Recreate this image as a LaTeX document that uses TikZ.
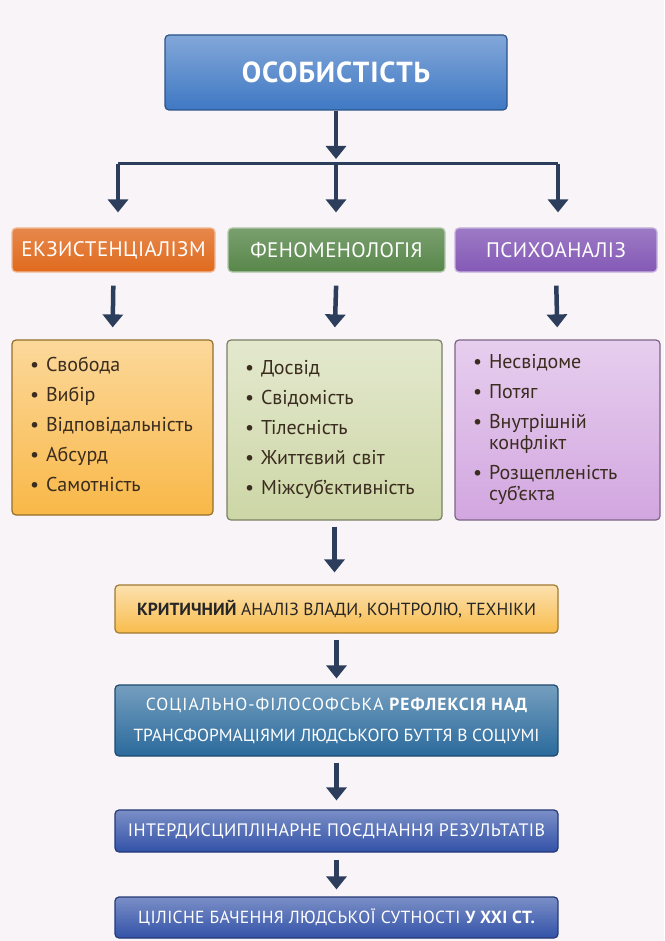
\documentclass[tikz,border=0pt]{standalone}
\usepackage{fontspec}
\setmainfont{PT Sans}
\usepackage{xcolor}
\usetikzlibrary{arrows.meta}
\usetikzlibrary{calc}

\definecolor{navy}{HTML}{2C3E5C}
\definecolor{paper}{HTML}{F8F4F8}
\definecolor{itemtext}{HTML}{3A2C1E}
\definecolor{topblue}{HTML}{3F78C4}
\definecolor{reflblue}{HTML}{2A6A9C}
\definecolor{darkblue}{HTML}{3352A8}
\definecolor{exorange}{HTML}{E06A1E}
\definecolor{phgreen}{HTML}{58874A}
\definecolor{pspurple}{HTML}{8459B6}
\definecolor{exlight}{HTML}{F9B848}
\definecolor{phlight}{HTML}{CDD6A6}
\definecolor{pslight}{HTML}{D2A6E0}
\definecolor{critlight}{HTML}{F8BC4C}

\begin{document}
\begin{tikzpicture}[x=1pt,y=-1pt,
    box/.style={rectangle, rounded corners=4pt, line width=1.2pt, align=center, inner sep=0pt},
    bluebox/.style={box, top color=#1!65!white, bottom color=#1, draw=#1!70!black, text=white},
    headbox/.style={box, top color=#1!80!white, bottom color=#1, draw=#1!45!white, text=white,
        minimum height=44, font=\fontsize{21}{23}\selectfont\addfontfeature{LetterSpace=2}},
    listbox/.style={box, top color=#1!55!white, bottom color=#1, draw=#1!60!black, text=itemtext,
        align=left, inner xsep=18pt, font=\fontsize{20}{21}\selectfont},
    arr/.style={draw=navy, line width=4.5pt, -{Triangle[width=20pt,length=13pt]}},
    link/.style={draw=navy, line width=3pt}]

  \useasboundingbox[fill=paper] (0,0) rectangle (664,941);

  % top
  \node [bluebox=topblue, minimum width=342, minimum height=75,
         font=\fontsize{29}{30}\selectfont\bfseries\addfontfeature{LetterSpace=3}](pers) at (336,72.5){ОСОБИСТІСТЬ};

  \coordinate (split) at (336,159);
  \coordinate (hl) at (118,164);
  \coordinate (hc) at (336,164);
  \coordinate (hr) at (558,164);

  % three approaches
  \node [headbox=exorange, minimum width=203](exist) at (113.5,250){ЕКЗИСТЕНЦІАЛІЗМ};
  \node [headbox=phgreen, minimum width=217](phen) at (336.5,250){ФЕНОМЕНОЛОГІЯ};
  \node [headbox=pspurple, minimum width=202](psych) at (556,250){ПСИХОАНАЛІЗ};

  \node [listbox=exlight, minimum width=201, minimum height=175,
         text width=165](existl) at (112.5,427.5){%
    \begin{tabular}{@{}l@{\hspace{7pt}}l@{}}
      • & Свобода\\[9pt]
      • & Вибір\\[9pt]
      • & Відповідальність\\[9pt]
      • & Абсурд\\[9pt]
      • & Самотність
    \end{tabular}};
  \node [listbox=phlight, minimum width=215, minimum height=180,
         text width=179](phenl) at (334.5,430){%
    \begin{tabular}{@{}l@{\hspace{7pt}}l@{}}
      • & Досвід\\[9pt]
      • & Свідомість\\[9pt]
      • & Тілесність\\[9pt]
      • & Життєвий світ\\[9pt]
      • & Міжсуб’єктивність
    \end{tabular}};
  \node [listbox=pslight, minimum width=205, minimum height=180,
         text width=169](psychl) at (557.5,430){%
    \begin{tabular}{@{}l@{\hspace{7pt}}l@{}}
      • & Несвідоме\\[9pt]
      • & Потяг\\[9pt]
      • & Внутрішній\\
        & конфлікт\\[9pt]
      • & Розщепленість\\
        & суб’єкта
    \end{tabular}};

  % lower chain
  \node [box, top color=critlight!45!white, bottom color=critlight,
         draw=critlight!65!black, minimum width=443, minimum height=48,
         font=\fontsize{17.5}{19}\selectfont, text=black!85](crit) at (336.5,609)
         {\textbf{КРИТИЧНИЙ} АНАЛІЗ ВЛАДИ, КОНТРОЛЮ, ТЕХНІКИ};
  \node [bluebox=reflblue, minimum width=443, minimum height=71,
         font=\fontsize{17.5}{31}\selectfont](refl) at (336.5,720.5)
         {{\addfontfeature{LetterSpace=6}СОЦІАЛЬНО-ФІЛОСОФСЬКА {\bfseries РЕФЛЕКСІЯ НАД}}\\
          ТРАНСФОРМАЦІЯМИ ЛЮДСЬКОГО БУТТЯ В СОЦІУМІ};
  \node [bluebox=darkblue, minimum width=443, minimum height=42,
         font=\fontsize{18}{20}\selectfont\addfontfeature{LetterSpace=2}](inter) at (336.5,831)
         {ІНТЕРДИСЦИПЛІНАРНЕ ПОЄДНАННЯ РЕЗУЛЬТАТІВ};
  \node [bluebox=darkblue, minimum width=443, minimum height=41,
         font=\fontsize{17.5}{20}\selectfont\addfontfeature{LetterSpace=2}](whole) at (336.5,917.5)
         {ЦІЛІСНЕ БАЧЕННЯ ЛЮДСЬКОЇ СУТНОСТІ {\bfseries У XXI СТ.}};

  % connectors
  \draw [arr] (pers.south) -- (split);
  \draw [link] (hl) -- (hr);
  \draw [arr, shorten >=15pt] (hl) -- (hl |- exist.north);
  \draw [arr, shorten >=15pt] (hc) -- (hc |- phen.north);
  \draw [arr, shorten >=15pt] (hr) -- (hr |- psych.north);

  \draw [arr, shorten <=13pt, shorten >=12pt] (exist.south) -- (existl.north);
  \draw [arr, shorten <=13pt, shorten >=12pt] (phen.south) -- (phenl.north);
  \draw [arr, shorten <=13pt, shorten >=12pt] (psych.south) -- (psychl.north);

  \draw [arr, shorten <=6pt, shorten >=12pt] (phenl.south) -- (phenl.south |- crit.north);
  \draw [arr, shorten <=6pt, shorten >=6pt] (crit.south) -- (refl.north);
  \draw [arr, shorten <=6pt, shorten >=9pt] (refl.south) -- (inter.north);
  \draw [arr, shorten <=7pt, shorten >=7pt] (inter.south) -- (whole.north);
\end{tikzpicture}
\end{document}
